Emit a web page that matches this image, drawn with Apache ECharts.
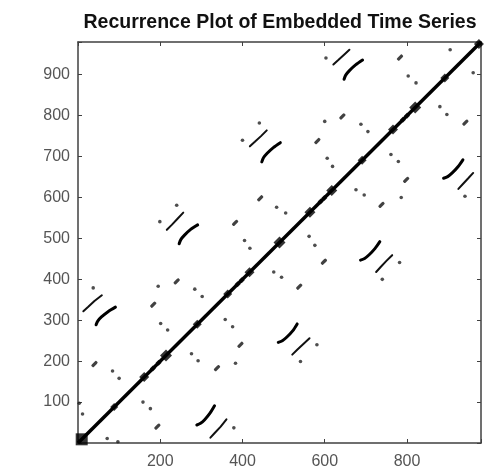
<!DOCTYPE html>
<html>
<head>
<meta charset="utf-8">
<script src="https://cdn.jsdelivr.net/npm/echarts@6/dist/echarts.min.js"></script>
<style>
html,body{margin:0;padding:0;background:#fff}
#main{width:493px;height:470px}
</style>
</head>
<body>
<div id="main"></div>
<script>
var titleText = 'Recurrence Plot of Embedded Time Series';
var axisMax = 980;
var xTickStep = 200;
var yTickStep = 100;

// main diagonal (i == j)
var diagonalEnds = [0, 980];
// big knots on the diagonal and their sizes
var knotPos  = [88, 161, 214, 290, 364, 417, 490, 564, 617, 691, 766, 820, 892, 975];
var knotSize = [8, 10, 12, 9, 9, 10, 12, 11, 11, 9, 10, 12, 9, 10];
// small bumps on the diagonal
var bumpPos = [182, 196, 388, 398, 590, 599, 790, 800];
// corner block
var cornerBlock = [[9, 9]];

// curved recurrence arcs above the diagonal
var arcs = [
    [[44, 289], [48, 298], [57, 308], [73, 321], [91, 332]],
    [[246, 487], [250, 497], [259, 508], [274, 522], [291, 533]],
    [[447, 687], [451, 697], [460, 708], [475, 722], [492, 734]],
    [[647, 889], [651, 899], [660, 910], [675, 924], [692, 936]]
];
// thinner straight strokes above the diagonal
var strokes = [
    [[13, 322], [25, 333], [40, 347], [58, 361]],
    [[216, 521], [228, 533], [242, 548], [256, 563]],
    [[418, 725], [430, 736], [445, 750], [459, 764]],
    [[621, 925], [633, 936], [647, 949], [660, 961]]
];
// short dashes above the diagonal
var dashes = [
    [40, 193], [183, 338], [240, 395], [382, 538], [443, 598],
    [582, 738], [643, 798], [783, 942]
];
// isolated dots above the diagonal
var dots = [
    [11, 71], [3, 97], [84, 176], [100, 158], [37, 379],
    [195, 383], [284, 376], [302, 358], [201, 292], [218, 276],
    [199, 541], [240, 581], [405, 495], [418, 476], [483, 576], [505, 562],
    [400, 740], [441, 782], [600, 786], [688, 779], [705, 761], [606, 696], [619, 676],
    [603, 941], [803, 897], [822, 880], [905, 961]
];

// plot is symmetric: add the transposed points
function withMirror(pts) {
    return pts.concat(pts.map(function (p) { return [p[1], p[0]]; }));
}
function mirrorLine(pts) {
    return pts.map(function (p) { return [p[1], p[0]]; });
}

var myChart = echarts.init(document.getElementById('main'));

var lineSeries = [];
arcs.forEach(function (a) {
    [a, mirrorLine(a)].forEach(function (d) {
        lineSeries.push({
            type: 'line', data: d, smooth: 0.3, symbol: 'none',
            lineStyle: { color: '#000', width: 3, cap: 'round' },
            silent: true
        });
    });
});
strokes.forEach(function (a) {
    [a, mirrorLine(a)].forEach(function (d) {
        lineSeries.push({
            type: 'line', data: d, symbol: 'none',
            lineStyle: { color: '#111', width: 2, cap: 'round' },
            silent: true
        });
    });
});

var axisLineStyle = { color: '#404040', width: 1.5 };
var tickStyle = { show: true, inside: true, length: 4, lineStyle: { color: '#404040', width: 1 } };

option = {
    animation: false,
    backgroundColor: '#fff',
    graphic: [{
        type: 'text',
        x: 280,
        y: 23,
        style: {
            text: titleText,
            font: 'bold 19.5px "Liberation Sans", Arial, sans-serif',
            fill: '#111',
            textAlign: 'center',
            textVerticalAlign: 'middle'
        }
    }],
    grid: { left: 78, right: 12, top: 42, bottom: 25, containLabel: false },
    xAxis: [{
        type: 'value', min: 0, max: axisMax, interval: xTickStep, position: 'bottom',
        axisLine: { show: true, onZero: false, lineStyle: axisLineStyle },
        axisTick: tickStyle,
        axisLabel: {
            color: '#555', fontSize: 16, margin: 11, fontFamily: 'Liberation Sans',
            formatter: function (v) { return (v > 0 && v % xTickStep === 0) ? v : ''; }
        },
        splitLine: { show: false }
    }, {
        type: 'value', min: 0, max: axisMax, interval: xTickStep, position: 'top',
        axisLine: { show: true, onZero: false, lineStyle: axisLineStyle },
        axisTick: tickStyle, axisLabel: { show: false }, splitLine: { show: false }
    }],
    yAxis: [{
        type: 'value', min: 0, max: axisMax, interval: yTickStep, position: 'left',
        axisLine: { show: true, onZero: false, lineStyle: axisLineStyle },
        axisTick: tickStyle,
        axisLabel: {
            color: '#555', fontSize: 16, margin: 8, fontFamily: 'Liberation Sans',
            formatter: function (v) { return (v > 0 && v % yTickStep === 0) ? v : ''; }
        },
        splitLine: { show: false }
    }, {
        type: 'value', min: 0, max: axisMax, interval: yTickStep, position: 'right',
        axisLine: { show: true, onZero: false, lineStyle: axisLineStyle },
        axisTick: tickStyle, axisLabel: { show: false }, splitLine: { show: false }
    }],
    series: [{
        type: 'line',
        data: diagonalEnds.map(function (v) { return [v, v]; }),
        symbol: 'none',
        lineStyle: { color: '#000', width: 3.5 },
        silent: true
    }, {
        type: 'scatter',
        data: knotPos.map(function (v, i) { return { value: [v, v], symbolSize: knotSize[i] }; }),
        symbol: 'diamond',
        itemStyle: { color: '#000' },
        silent: true
    }, {
        type: 'scatter',
        data: bumpPos.map(function (v) { return [v, v]; }),
        symbol: 'diamond', symbolSize: 6,
        itemStyle: { color: '#000' },
        silent: true
    }, {
        type: 'scatter',
        data: cornerBlock,
        symbol: 'rect', symbolSize: 12,
        itemStyle: { color: '#000' },
        silent: true
    }, {
        type: 'scatter',
        data: withMirror(dashes),
        symbol: 'roundRect', symbolSize: [7, 3.2], symbolRotate: 45,
        itemStyle: { color: '#111' },
        silent: true
    }, {
        type: 'scatter',
        data: withMirror(dots),
        symbol: 'circle', symbolSize: 3.6,
        itemStyle: { color: '#222' },
        silent: true
    }].concat(lineSeries)
};

myChart.setOption(option);
</script>
</body>
</html>
